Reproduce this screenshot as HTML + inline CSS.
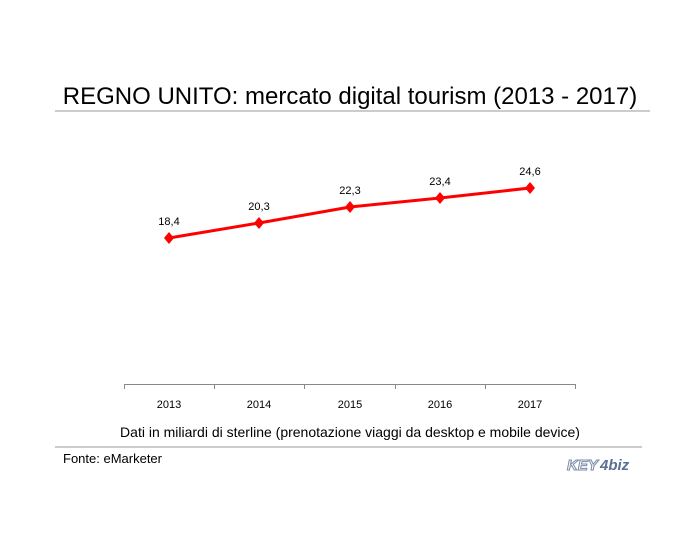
<!DOCTYPE html>
<html><head><style>
body{margin:0;width:700px;height:550px;background:#fff;position:relative;font-family:"Liberation Sans",sans-serif;overflow:hidden}
</style></head><body>
<svg width="700" height="550" style="position:absolute;left:0;top:0" font-family="Liberation Sans, sans-serif">
<text x="350" y="104" font-size="24" text-anchor="middle" fill="#000">REGNO UNITO: mercato digital tourism (2013 - 2017)</text>
<line x1="55" y1="111" x2="650" y2="111" stroke="#999" stroke-width="1"/>
<line x1="124" y1="384.5" x2="576" y2="384.5" stroke="#888"/>
<g stroke="#888">
<line x1="124.5" y1="384" x2="124.5" y2="389"/><line x1="214.5" y1="384" x2="214.5" y2="389"/><line x1="304.5" y1="384" x2="304.5" y2="389"/><line x1="395.5" y1="384" x2="395.5" y2="389"/><line x1="485.5" y1="384" x2="485.5" y2="389"/><line x1="575.5" y1="384" x2="575.5" y2="389"/>
</g>
<g font-size="11" text-anchor="middle" fill="#000">
<text x="169" y="408">2013</text><text x="259" y="408">2014</text><text x="350" y="408">2015</text><text x="440" y="408">2016</text><text x="530" y="408">2017</text>
</g>
<polyline points="169,238 259,223 350,207 440,198 530,188" fill="none" stroke="#ff0000" stroke-width="3"/>
<g fill="#ff0000">
<path d="M169,232 l5,6 -5,6 -5,-6z"/><path d="M259,217 l5,6 -5,6 -5,-6z"/><path d="M350,201 l5,6 -5,6 -5,-6z"/><path d="M440,192 l5,6 -5,6 -5,-6z"/><path d="M530,182 l5,6 -5,6 -5,-6z"/>
</g>
<g font-size="11" text-anchor="middle" fill="#000">
<text x="169" y="225">18,4</text><text x="259" y="210">20,3</text><text x="350" y="194">22,3</text><text x="440" y="185">23,4</text><text x="530" y="175">24,6</text>
</g>
<text x="350" y="437" font-size="14" text-anchor="middle" fill="#000">Dati in miliardi di sterline (prenotazione viaggi da desktop e mobile device)</text>
<line x1="55" y1="447" x2="642" y2="447" stroke="#999"/>
<text x="63" y="463" font-size="13" fill="#000">Fonte: eMarketer</text>
<text x="567" y="470" font-size="15" font-weight="bold" fill="#fff" stroke="#7a8aa8" stroke-width="1" font-style="italic">KEY</text>
<text x="600" y="470" font-size="15" font-weight="bold" fill="#5a6f94" font-style="italic">4biz</text>
</svg>
</body></html>
